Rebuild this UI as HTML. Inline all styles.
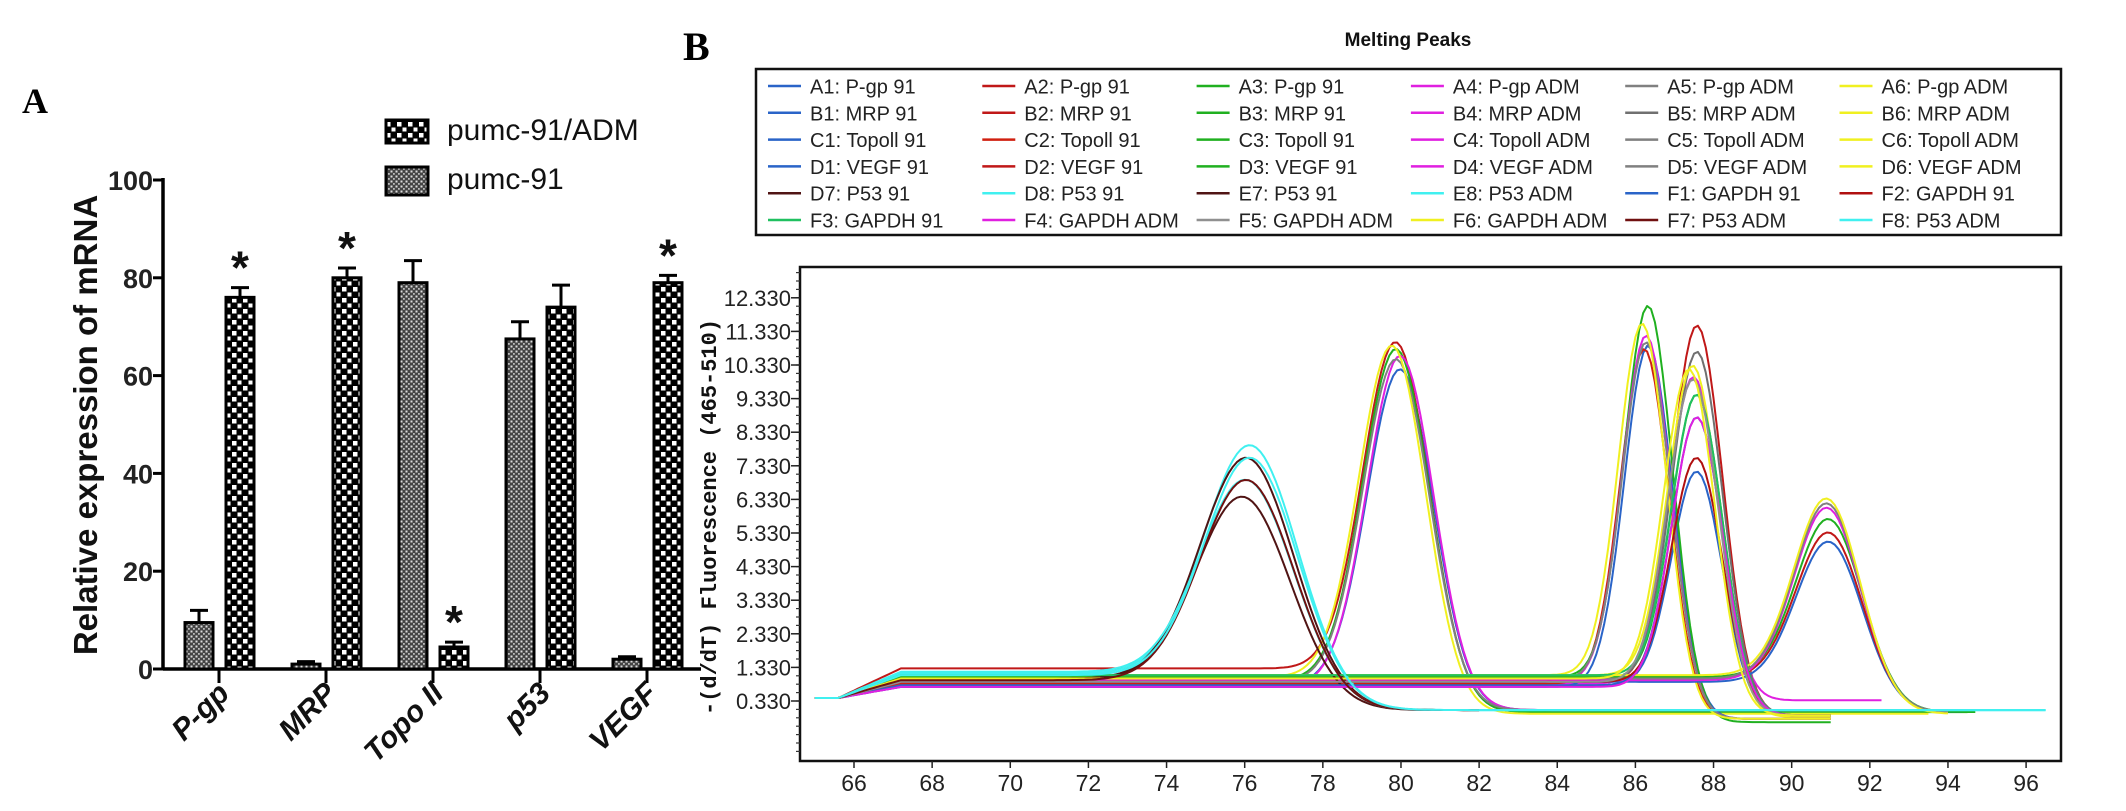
<!DOCTYPE html>
<html><head><meta charset="utf-8"><style>
body{margin:0;background:#fff;}
svg{display:block;}
</style></head><body>
<svg id="fig" width="2126" height="811" viewBox="0 0 2126 811" xmlns="http://www.w3.org/2000/svg">
<defs>
<pattern id="patAdm" width="11" height="11" patternUnits="userSpaceOnUse"><rect width="11" height="11" fill="#000"/><rect x="1" y="1" width="4.5" height="4.5" fill="#fff"/><rect x="6.5" y="6.5" width="4" height="4" fill="#fff"/></pattern>
<pattern id="pat91" width="5" height="5" patternUnits="userSpaceOnUse"><rect width="5" height="5" fill="#444"/><rect x="0.5" y="0.5" width="2" height="2" fill="#ddd"/><rect x="3" y="3" width="1.8" height="1.8" fill="#bbb"/></pattern>
</defs>
<g id="panelA"></g>
<g id="panelB"></g>
</svg>
<script>
// ---------- Panel A data ----------
const categories = ["P-gp","MRP","Topo II","p53","VEGF"];
const pumc91Values = [9.5, 1, 79, 67.5, 2];
const pumc91Errors = [2.5, 0.5, 4.5, 3.5, 0.5];
const admValues = [76, 80, 4.5, 74, 79];
const admErrors = [2, 2, 1, 4.5, 1.5];
const admSignificant = [true, true, true, false, true];
const yTicksA = [0, 20, 40, 60, 80, 100];

// ---------- Panel B data ----------
const seriesNames = ["A1: P-gp 91","A2: P-gp 91","A3: P-gp 91","A4: P-gp ADM","A5: P-gp ADM","A6: P-gp ADM",
"B1: MRP 91","B2: MRP 91","B3: MRP 91","B4: MRP ADM","B5: MRP ADM","B6: MRP ADM",
"C1: TopoII 91","C2: TopoII 91","C3: TopoII 91","C4: TopoII ADM","C5: TopoII ADM","C6: TopoII ADM",
"D1: VEGF 91","D2: VEGF 91","D3: VEGF 91","D4: VEGF ADM","D5: VEGF ADM","D6: VEGF ADM",
"D7: P53 91","D8: P53 91","E7: P53 91","E8: P53 ADM","F1: GAPDH 91","F2: GAPDH 91",
"F3: GAPDH 91","F4: GAPDH ADM","F5: GAPDH ADM","F6: GAPDH ADM","F7: P53 ADM","F8: P53 ADM"];
const seriesColors = ["#2a64c8","#c01818","#20b020","#e020e0","#808080","#f0f020",
"#2a64c8","#c01818","#20b020","#e020e0","#707070","#f0f020",
"#2a64c8","#d02010","#20b020","#e020e0","#808080","#f0f020",
"#2a64c8","#c01818","#20b020","#e020e0","#808080","#f0f020",
"#501414","#40f0f0","#501414","#40f0f0","#2a64c8","#b01010",
"#20c060","#e020e0","#909090","#f0f020","#701010","#40f0f0"];
const peakTemp = [80.0,79.9,79.9,80.0,79.9,79.8, 87.6,87.6,87.6,87.5,87.6,87.5, 86.35,86.25,86.35,86.3,86.3,86.2, 91.0,91.0,91.0,90.95,90.95,90.95, 76.0,76.2,76.1,76.1,87.6,87.6,87.6,87.6,87.5,87.4,76.1,76.2];
const peakHeight = [10.2,11.0,10.8,10.6,10.5,10.9, 7.15,11.5,9.44,9.98,10.72,10.3, 10.9,10.8,12.08,11.2,11.0,11.55, 5.06,5.33,5.73,6.07,6.2,6.34, 6.4,7.93,7.56,6.9,8.77,7.56,9.44,8.77,9.9,10.2,6.9,7.56];
const peakWidth = [0.85,0.85,0.85,0.85,0.85,0.85, 0.65,0.65,0.65,0.65,0.65,0.65, 0.62,0.62,0.62,0.62,0.62,0.62, 0.85,0.85,0.85,0.85,0.85,0.85, 1.2,1.2,1.2,1.2,0.65,0.65,0.65,0.65,0.65,0.65,1.2,1.2];
const baseLevel = [0.8,1.3,0.95,0.75,0.9,1.05, 0.8,0.9,1.0,0.85,0.95,1.1, 0.75,0.85,1.05,0.9,0.95,1.1, 0.9,1.0,1.05,0.95,1.0,1.1, 0.95,1.15,1.0,1.2,0.8,0.9,1.1,0.75,0.9,1.0,0.95,1.1];
const endLevel = [0.06,0.0,0.0,0.06,0.06,-0.05, -0.12,-0.12,-0.1,0.35,-0.1,-0.15, -0.2,-0.2,-0.3,-0.2,-0.2,-0.2, 0.0,0.0,0.0,0.0,0.0,-0.05, 0.06,0.06,0.06,0.06,-0.1,-0.1,-0.1,-0.1,-0.1,-0.1,0.06,0.06];
const endTemp = [94,93.5,94.5,93,94,93.5, 91,91,91,92.3,91,91, 91,91,91,91,91,91, 94.5,93.8,94.7,94,94,94, 82,96.5,82,96.5,91,91,91,91,91,91,82,96.5];
const xTicksB = [66,68,70,72,74,76,78,80,82,84,86,88,90,92,94,96];
const yTicksB = [0.33,1.33,2.33,3.33,4.33,5.33,6.33,7.33,8.33,9.33,10.33,11.33,12.33];

const NS="http://www.w3.org/2000/svg";
function mk(parent, tag, attrs, text){const e=document.createElementNS(NS,tag);for(const k in attrs)e.setAttribute(k,attrs[k]);if(text!==undefined)e.textContent=text;parent.appendChild(e);return e;}

// ================= PANEL A =================
const A=document.getElementById('panelA');
const axL=163, axR=701, y0=669, y100=180;
const yA=v=>y0-(v/100)*(y0-y100);
const catX=i=>219+i*107;
let t;
t=mk(A,'text',{x:22,y:113,'font-family':'Liberation Serif, serif','font-weight':'bold','font-size':36},'A');

let r=mk(A,'rect',{x:386,y:120,width:42,height:23,fill:'url(#patAdm)',stroke:'#000','stroke-width':3});

t=mk(A,'text',{x:447,y:140,'font-family':'Liberation Sans, sans-serif','font-size':30,fill:'#111'},'pumc-91/ADM');

r=mk(A,'rect',{x:386,y:167,width:42,height:28,fill:'url(#pat91)',stroke:'#000','stroke-width':3});

t=mk(A,'text',{x:447,y:189,'font-family':'Liberation Sans, sans-serif','font-size':30,fill:'#111'},'pumc-91');

t=mk(A,'text',{x:0,y:0,transform:'translate(97,425) rotate(-90)','text-anchor':'middle','font-family':'Liberation Sans, sans-serif','font-weight':'bold','font-size':33,fill:'#111'},'Relative expression of mRNA');

let l=mk(A,'line',{x1:axL,y1:y100-2,x2:axL,y2:y0+1.5,stroke:'#000','stroke-width':3.5});

yTicksA.forEach(v=>{
  const tk=mk(A,'line',{x1:axL-10,x2:axL,y1:yA(v),y2:yA(v),stroke:'#000','stroke-width':3});
  
  const tl=mk(A,'text',{x:axL-10,y:yA(v)+10,'text-anchor':'end','font-family':'Liberation Sans, sans-serif','font-weight':'bold','font-size':27,fill:'#222'},String(v));
  
});
l=mk(A,'line',{x1:axL,y1:y0,x2:axR,y2:y0,stroke:'#000','stroke-width':3.5});

categories.forEach((c,i)=>{
  const cx=catX(i);
  const tk=mk(A,'line',{x1:cx,x2:cx,y1:y0,y2:y0+14,stroke:'#000','stroke-width':3});
  
  const tl=mk(A,'text',{x:0,y:0,transform:`translate(${cx+12},${y0+26}) rotate(-45)`,'text-anchor':'end','font-family':'Liberation Sans, sans-serif','font-weight':'bold','font-style':'italic','font-size':30,fill:'#111'},c);
  
  const bw=28;
  [[pumc91Values,pumc91Errors,-20,'url(#pat91)','bar-pumc91'],[admValues,admErrors,21,'url(#patAdm)','bar-adm']].forEach(([vals,errs,off,fill,name])=>{
    const bx=cx+off-bw/2, top=yA(vals[i]);
    const et=yA(vals[i]+errs[i]);
    const eb=mk(A,'line',{x1:cx+off,x2:cx+off,y1:et,y2:top,stroke:'#000','stroke-width':3});
    
    const ec=mk(A,'line',{x1:cx+off-9,x2:cx+off+9,y1:et,y2:et,stroke:'#000','stroke-width':3});
    
    const b=mk(A,'rect',{x:bx,y:top,width:bw,height:y0-top,fill:fill,stroke:'#000','stroke-width':3});
    
  });
  if(admSignificant[i]){
    const et=yA(admValues[i]+admErrors[i]);
    const s=mk(A,'text',{x:cx+21,y:et-4,'text-anchor':'middle','font-family':'Liberation Sans, sans-serif','font-weight':'bold','font-size':46,fill:'#111'},'*');
    
  }
});

// ================= PANEL B =================
const B=document.getElementById('panelB');
const pL=800,pR=2061,pT=267,pB=761;
const xB=v=>854+(v-66)*39.07;
const yB=v=>701-(v-0.33)*33.6;
t=mk(B,'text',{x:683,y:60,'font-family':'Liberation Serif, serif','font-weight':'bold','font-size':40},'B');

t=mk(B,'text',{x:1408,y:46,'text-anchor':'middle','font-family':'Liberation Sans, sans-serif','font-weight':'bold','font-size':19,fill:'#111'},'Melting Peaks');

r=mk(B,'rect',{x:756,y:69,width:1305,height:166,fill:'#fff',stroke:'#111','stroke-width':2.5});

const legendOrder=[0,1,2,3,4,5, 6,7,8,9,10,11, 12,13,14,15,16,17, 18,19,20,21,22,23, 24,25,26,27,28,29, 30,31,32,33,34,35];
legendOrder.forEach((si,k)=>{
  const row=Math.floor(k/6), col=k%6;
  const lx=768+col*214.3, ly=86+row*26.8;
  const g=mk(B,'g',{});
  
  mk(g,'line',{x1:lx,x2:lx+33,y1:ly,y2:ly,stroke:seriesColors[si],'stroke-width':2.5});
  mk(g,'text',{x:lx+42,y:ly+7.5,'font-family':'Liberation Sans, sans-serif','font-size':20,fill:'#222'},seriesNames[si].replace('TopoII','Topoll'));
});
r=mk(B,'rect',{x:pL,y:pT,width:pR-pL,height:pB-pT,fill:'#fff',stroke:'#111','stroke-width':2.5});

for(let v=-1.42;v<=13.2;v+=0.25){
  const yy=yB(v); if(yy<pT+2||yy>pB-2) continue;
  const tk=mk(B,'line',{x1:pL-4,x2:pL,y1:yy,y2:yy,stroke:'#333','stroke-width':1.2});
  
}
yTicksB.forEach(v=>{
  const tk=mk(B,'line',{x1:pL-9,x2:pL,y1:yB(v),y2:yB(v),stroke:'#222','stroke-width':1.5});
  
  const tl=mk(B,'text',{x:pL-9,y:yB(v)+8,'text-anchor':'end','font-family':'Liberation Sans, sans-serif','font-size':22,fill:'#222'},v.toFixed(3));
  
});
xTicksB.forEach(v=>{
  const tk=mk(B,'line',{x1:xB(v),x2:xB(v),y1:pB,y2:pB+7,stroke:'#222','stroke-width':1.5});
  
  const tl=mk(B,'text',{x:xB(v),y:pB+30,'text-anchor':'middle','font-family':'Liberation Sans, sans-serif','font-size':23,fill:'#222'},String(v));
  
});
t=mk(B,'text',{x:0,y:0,transform:'translate(716,517) rotate(-90)','text-anchor':'middle','font-family':'Liberation Mono, monospace','font-weight':'bold','font-size':22,fill:'#111'},'-(d/dT) Fluorescence (465-510)');

const curves=mk(B,'g',{});

seriesNames.forEach((nm,i)=>{
  const Tm=peakTemp[i],H=peakHeight[i],sg=peakWidth[i],pre=baseLevel[i],post=endLevel[i],te=endTemp[i];
  const pts=[];
  for(let x=65.0;x<=te+1e-9;x+=0.1){
    let base=pre;
    if(x<65.6) base=0.42; else if(x<67.2) base=0.42+(pre-0.42)*(x-65.6)/1.6;
    const s=1/(1+Math.exp(-(x-Tm)/(sg*0.6)));
    const b=base*(1-s)+post*s;
    const pk=(H-(pre*0.5+post*0.5))*Math.exp(-0.5*((x-Tm)/sg)**2);
    const y=b+pk;
    pts.push(xB(x).toFixed(1)+','+yB(y).toFixed(1));
  }
  const p=mk(curves,'polyline',{points:pts.join(' '),fill:'none',stroke:seriesColors[i],'stroke-width':2,'stroke-linejoin':'round'});
  
  
});
</script>
</body></html>
